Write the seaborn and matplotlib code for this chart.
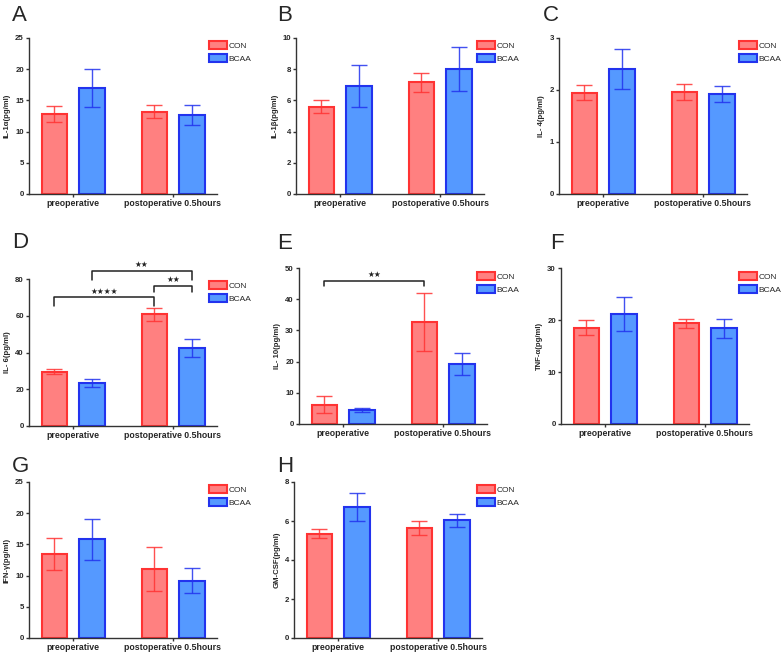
import numpy as np
import pandas as pd
import matplotlib
matplotlib.use('Agg')
import matplotlib.pyplot as plt
import seaborn as sns
from matplotlib.patches import Patch

# categories
times = ['preoperative', 'postoperative 0.5hours']
groups = ['CON', 'BCAA']

# mean and error bar (pre, post) for every cytokine
il1a_con, il1a_con_err = [12.8, 13.2], [1.3, 1.1]
il1a_bcaa, il1a_bcaa_err = [17.0, 12.6], [3.0, 1.6]

il1b_con, il1b_con_err = [5.6, 7.15], [0.4, 0.6]
il1b_bcaa, il1b_bcaa_err = [6.9, 8.0], [1.35, 1.4]

il4_con, il4_con_err = [1.95, 1.96], [0.14, 0.16]
il4_bcaa, il4_bcaa_err = [2.40, 1.92], [0.38, 0.16]

il6_con, il6_con_err = [29.5, 60.7], [1.3, 3.5]
il6_bcaa, il6_bcaa_err = [23.3, 42.3], [2.2, 4.9]

il10_con, il10_con_err = [6.2, 32.6], [2.7, 9.3]
il10_bcaa, il10_bcaa_err = [4.4, 19.3], [0.7, 3.6]

tnf_con, tnf_con_err = [18.5, 19.4], [1.45, 0.85]
tnf_bcaa, tnf_bcaa_err = [21.2, 18.4], [3.3, 1.8]

ifn_con, ifn_con_err = [13.5, 11.1], [2.55, 3.5]
ifn_bcaa, ifn_bcaa_err = [15.8, 9.2], [3.3, 2.0]

gmcsf_con, gmcsf_con_err = [5.35, 5.64], [0.24, 0.38]
gmcsf_bcaa, gmcsf_bcaa_err = [6.72, 6.03], [0.72, 0.35]

# significance brackets: (bar 1, bar 2, bracket height, leg bottom, label)
# bars are given as (group index, time index)
il6_sig = [((0, 0), (0, 1), 70.0, 65.4, '★★★★'),
           ((1, 0), (1, 1), 84.5, 79.6, '★★'),
           ((0, 1), (1, 1), 76.3, 72.9, '★★')]
il10_sig = [((0, 0), (0, 1), 45.9, 44.1, '★★')]

fills = ['#FF8080', '#5599FF']
edges = ['#FF3333', '#2233EE']

W, H = 784, 653


def px_rect(l, t, r, b):
    return [l / W, 1 - b / H, (r - l) / W, (b - t) / H]


# letter, ylabel, data, ymax, ystep, axes box (px), letter pos (px), legend anchor (px), brackets
panels = [
    ('A', 'IL-1α(pg/ml)', (il1a_con, il1a_con_err, il1a_bcaa, il1a_bcaa_err), 25, 5,
     (29, 38, 217, 194), (12, 21), (209, 41), []),
    ('B', 'IL-1β(pg/ml)', (il1b_con, il1b_con_err, il1b_bcaa, il1b_bcaa_err), 10, 2,
     (296, 38, 484, 194), (277, 21), (477, 41), []),
    ('C', 'IL- 4(pg/ml)', (il4_con, il4_con_err, il4_bcaa, il4_bcaa_err), 3, 1,
     (559, 38, 747, 194), (543, 21), (739, 41), []),
    ('D', 'IL- 6(pg/ml)', (il6_con, il6_con_err, il6_bcaa, il6_bcaa_err), 80, 20,
     (29, 279, 217, 426), (12, 248), (209, 281), il6_sig),
    ('E', 'IL- 10(pg/ml)', (il10_con, il10_con_err, il10_bcaa, il10_bcaa_err), 50, 10,
     (299, 268, 487, 424), (277, 249), (477, 272), il10_sig),
    ('F', 'TNF-α(pg/ml)', (tnf_con, tnf_con_err, tnf_bcaa, tnf_bcaa_err), 30, 10,
     (561, 268, 749, 424), (550, 249), (739, 272), []),
    ('G', 'IFN-γ(pg/ml)', (ifn_con, ifn_con_err, ifn_bcaa, ifn_bcaa_err), 25, 5,
     (29, 482, 217, 638), (12, 472), (209, 485), []),
    ('H', 'GM-CSF(pg/ml)', (gmcsf_con, gmcsf_con_err, gmcsf_bcaa, gmcsf_bcaa_err), 8, 2,
     (294, 482, 482, 638), (277, 472), (477, 485), []),
]

sns.set_style('white')
plt.rcParams['font.family'] = ['Liberation Sans', 'DejaVu Sans']

fig = plt.figure(figsize=(7.84, 6.53), dpi=100)

for letter, ylabel, (con, con_err, bcaa, bcaa_err), ymax, ystep, box, lpos, legpos, sig in panels:
    ax = fig.add_axes(px_rect(*box))
    df = pd.DataFrame({
        'time': times * 2,
        'group': [groups[0]] * 2 + [groups[1]] * 2,
        'value': con + bcaa,
    })
    sns.barplot(data=df, x='time', y='value', hue='group', order=times, hue_order=groups,
                palette=fills, saturation=1, width=0.75, gap=0.32, errorbar=None,
                legend=False, linewidth=1.5, ax=ax)

    centers = []
    for cont, edge, errs in zip(ax.containers, edges, [con_err, bcaa_err]):
        xs, ys = [], []
        for bar in cont:
            bar.set_edgecolor(edge)
            xs.append(bar.get_x() + bar.get_width() / 2)
            ys.append(bar.get_height())
        centers.append(xs)
        ax.errorbar(xs, ys, yerr=errs, fmt='none', ecolor=edge, elinewidth=1,
                    capsize=6, capthick=1, alpha=0.85)

    # significance brackets
    for (g1, t1), (g2, t2), yb, yl, label in sig:
        x1, x2 = centers[g1][t1], centers[g2][t2]
        ax.plot([x1, x1, x2, x2], [yl, yb, yb, yl], color='#222222', lw=1.1, clip_on=False)
        ax.text((x1 + x2) / 2, yb + ymax * 0.012, label, ha='center', va='bottom',
                fontsize=5.5, family='DejaVu Sans', color='#222222', clip_on=False)

    ax.set_xlim(-0.44, 1.44)
    ax.set_ylim(0, ymax)
    ax.set_yticks(np.arange(0, ymax + ystep / 2, ystep))
    ax.set_xlabel('')
    ax.set_ylabel(ylabel, fontsize=5.6, fontweight='bold', labelpad=3)
    sns.despine(ax=ax)
    for s in ['left', 'bottom']:
        ax.spines[s].set_color('#333333')
        ax.spines[s].set_linewidth(1.0)
    ax.tick_params(axis='y', length=2.5, width=1, labelsize=5.6, pad=1.2, color='#333333',
                   left=True)
    ax.tick_params(axis='x', length=2.2, width=1, labelsize=6.3, pad=1.5, color='#333333',
                   bottom=True)
    for lab in ax.get_xticklabels() + ax.get_yticklabels():
        lab.set_fontweight('bold')

    handles = [Patch(facecolor=f, edgecolor=e, linewidth=1.5, label=g)
               for f, e, g in zip(fills, edges, groups)]
    ax.legend(handles=handles, loc='upper left',
              bbox_to_anchor=(legpos[0] / W, 1 - legpos[1] / H),
              bbox_transform=fig.transFigure, frameon=False, borderpad=0,
              borderaxespad=0, fontsize=6.0, handlelength=2.1, handleheight=1.1,
              handletextpad=0.25, labelspacing=0.55)

    fig.text(lpos[0] / W, 1 - lpos[1] / H, letter, fontsize=16, ha='left', va='baseline')

fig.savefig('out.png', dpi=100)
